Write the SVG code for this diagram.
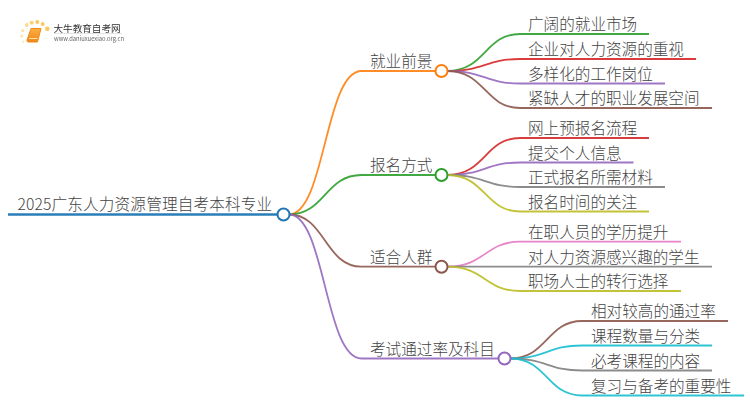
<svg xmlns="http://www.w3.org/2000/svg" width="750" height="410" viewBox="0 0 750 410">
<defs><filter id="soft" x="-5%" y="-5%" width="110%" height="110%"><feGaussianBlur stdDeviation="0.35"/></filter>
<linearGradient id="book" x1="0" y1="0" x2="0" y2="1"><stop offset="0" stop-color="#fbb040"/><stop offset="1" stop-color="#f0861a"/></linearGradient></defs>
<style>
text{font-family:"Noto Sans CJK SC","Noto Sans",sans-serif;font-size:15.6px;font-weight:300;fill:#444}
path{fill:none;stroke-width:1.8}
circle{fill:#fff;stroke-width:2}
.o{stroke:#ff7f0e}.g{stroke:#2ca02c}.r{stroke:#d62728}.p{stroke:#9467bd}.b{stroke:#8c564b}.k{stroke:#e377c2}.y{stroke:#7f7f7f}.l{stroke:#bcbd22}.c{stroke:#17becf}
#connectors path{stroke-opacity:.9}
.dot{stroke:none}
</style>
<g id="logo" filter="url(#soft)">
<circle class="dot" cx="23" cy="41.700" r="1.200" style="fill:#fdeac4"/>
<circle class="dot" cx="21.700" cy="36" r="1.500" style="fill:#fde3a8"/>
<circle class="dot" cx="22.700" cy="30.700" r="1.600" style="fill:#fde3a8"/>
<circle class="dot" cx="26.700" cy="25" r="1.900" style="fill:#fcd98c"/>
<circle class="dot" cx="31.700" cy="22.700" r="2" style="fill:#fcd070"/>
<circle class="dot" cx="37.300" cy="22" r="2" style="fill:#fbc85c"/>
<circle class="dot" cx="42.700" cy="24" r="2" style="fill:#fbc85c"/>
<circle class="dot" cx="47.300" cy="28.700" r="2.300" style="fill:#fbc85c"/>
<path d="M31 28.500H41L37.500 42H28.500Q26.500 42 27 40Z" style="fill:url(#book);stroke:#ee8a1c;stroke-width:1"/>
<path d="M29 38.500H37.500" style="stroke:#fde3a8;stroke-width:1"/>
<text x="53.500" y="31.500" style="font-size:9.600px;font-weight:400;fill:#333">大牛教育自考网</text>
<path d="M54 33.500H122" style="stroke:#ddd;stroke-width:.8"/>
<text x="54" y="41" style="font-size:5.800px;font-weight:400;fill:#666">www.daniuxuexiao.org.cn</text>
</g>
<g id="connectors">
<path class="o" d="M289 214.500C325 214.500 325 71 361.500 71H435.500"/>
<path class="g" d="M289 214.500C325 214.500 325 175 361.500 175H435.500"/>
<path class="b" d="M289 214.500C325 214.500 325 266.700 361.500 266.700H435.500"/>
<path class="p" d="M289 214.500C325 214.500 325 358.500 361.500 358.500H498.500"/>
<path style="stroke:#1f77b4;stroke-width:2.500;stroke-opacity:.95" d="M8 214.500H277.500"/>
<path class="g" d="M447.500 71C485 71 485 34 520 34H649"/>
<path class="r" d="M447.500 71C485 71 485 59 520 59H696"/>
<path class="p" d="M447.500 71C485 71 485 83.500 520 83.500H665"/>
<path class="b" d="M447.500 71C485 71 485 108 520 108H712"/>
<path class="r" d="M447.500 175C485 175 485 138 520 138H649"/>
<path class="p" d="M447.500 175C485 175 485 162.500 520 162.500H633.500"/>
<path class="y" d="M447.500 175C485 175 485 187 520 187H665"/>
<path class="l" d="M447.500 175C485 175 485 211.500 520 211.500H649"/>
<path class="k" d="M447.500 266.700C485 266.700 485 241.700 520 241.700H681"/>
<path class="y" d="M447.500 266.700H712"/>
<path class="l" d="M447.500 266.700C485 266.700 485 291 520 291H681"/>
<path class="b" d="M510.500 358.500C547 358.500 547 321 582 321H728"/>
<path class="c" d="M510.500 358.500C547 358.500 547 345.500 582 345.500H712"/>
<path class="y" d="M510.500 358.500C547 358.500 547 370.500 582 370.500H712"/>
<path class="c" d="M510.500 358.500C547 358.500 547 395.500 582 395.500H744"/>
</g>
<g id="root"><text x="17.500" y="210" style="letter-spacing:.17px">2025广东人力资源管理自考本科专业</text><circle cx="283.500" cy="214.500" r="6" style="stroke:#1f77b4"/></g>
<g id="n1"><text x="370" y="67">就业前景</text><circle cx="441.500" cy="71" r="6" class="o"/></g>
<g id="n2"><text x="370" y="171">报名方式</text><circle cx="441.500" cy="175" r="6" class="g"/></g>
<g id="n3"><text x="370" y="262.500">适合人群</text><circle cx="441.500" cy="266.700" r="6" class="b"/></g>
<g id="n4"><text x="370" y="354.500">考试通过率及科目</text><circle cx="504.500" cy="358.500" r="6" class="p"/></g>
<g id="n1a"><text x="528" y="30">广阔的就业市场</text></g>
<g id="n1b"><text x="528" y="55">企业对人力资源的重视</text></g>
<g id="n1c"><text x="528" y="79.500">多样化的工作岗位</text></g>
<g id="n1d"><text x="528" y="104">紧缺人才的职业发展空间</text></g>
<g id="n2a"><text x="528" y="134">网上预报名流程</text></g>
<g id="n2b"><text x="528" y="158.500">提交个人信息</text></g>
<g id="n2c"><text x="528" y="183">正式报名所需材料</text></g>
<g id="n2d"><text x="528" y="207.500">报名时间的关注</text></g>
<g id="n3a"><text x="528" y="237.700">在职人员的学历提升</text></g>
<g id="n3b"><text x="528" y="262.500">对人力资源感兴趣的学生</text></g>
<g id="n3c"><text x="528" y="287">职场人士的转行选择</text></g>
<g id="n4a"><text x="591" y="317">相对较高的通过率</text></g>
<g id="n4b"><text x="591" y="341.500">课程数量与分类</text></g>
<g id="n4c"><text x="591" y="366.500">必考课程的内容</text></g>
<g id="n4d"><text x="591" y="391.500">复习与备考的重要性</text></g>
</svg>
